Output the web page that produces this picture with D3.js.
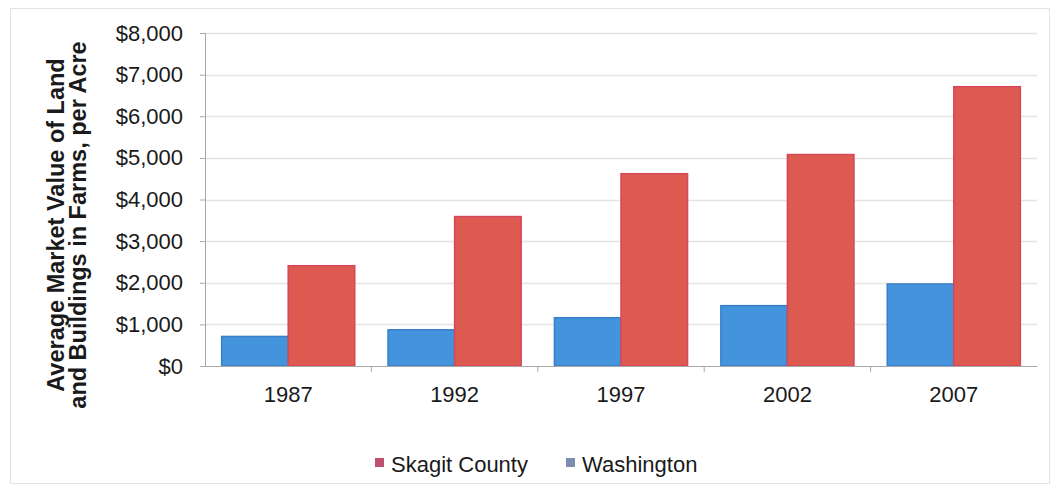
<!DOCTYPE html>
<html>
<head>
<meta charset="utf-8">
<script src="https://cdn.jsdelivr.net/npm/d3@7"></script>
<style>
  body { margin: 0; background: #fff; }
  text { font-family: "Liberation Sans", Arial, sans-serif; fill: #1a1a1a; }
</style>
</head>
<body>
<svg id="chart" width="1057" height="490"></svg>
<script>
// chart data
const years = ["1987", "1992", "1997", "2002", "2007"];
const seriesNames = ["Washington", "Skagit County"];
const washington = [710, 870, 1160, 1450, 1970];
const skagit = [2410, 3590, 4620, 5080, 6710];
const yTicks = [0, 1000, 2000, 3000, 4000, 5000, 6000, 7000, 8000];
const legendOrder = ["Skagit County", "Washington"];

const colors = { "Washington": "#4394dc", "Skagit County": "#dd5a50" };
const legendColors = { "Washington": "#7d8db0", "Skagit County": "#c0506f" };

const svg = d3.select("#chart");
const margin = { left: 205, right: 20, top: 33, bottom: 124 };
const W = 1057, H = 490;

// outer frame
svg.append("rect")
    .attr("x", 10.5).attr("y", 8.5)
    .attr("width", 1039).attr("height", 475)
    .attr("fill", "#fff")
    .attr("stroke", "#e2e2e2");

const x0 = d3.scaleBand()
    .domain(years)
    .range([margin.left, W - margin.right])
    .paddingInner(0.2)
    .paddingOuter(0.1);

const x1 = d3.scaleBand()
    .domain(seriesNames)
    .range([0, x0.bandwidth()]);

const y = d3.scaleLinear()
    .domain([0, 8000])
    .range([H - margin.bottom, margin.top]);

// gridlines
svg.append("g")
    .selectAll("line")
    .data(yTicks.filter(d => d > 0))
    .join("line")
    .attr("x1", margin.left).attr("x2", W - margin.right)
    .attr("y1", d => Math.round(y(d)) + 0.5).attr("y2", d => Math.round(y(d)) + 0.5)
    .attr("stroke", "#e4e4e4")
    .attr("stroke-width", 1.5);

// y axis
const yAxis = svg.append("g")
    .attr("transform", `translate(${margin.left},0)`)
    .call(d3.axisLeft(y).tickValues(yTicks).tickSize(5).tickPadding(17)
        .tickFormat(d => "$" + d3.format(",")(d)));
yAxis.select(".domain").attr("stroke", "#a8a8a8");
yAxis.selectAll(".tick line").attr("stroke", "#a8a8a8");
yAxis.selectAll("text")
    .style("font-size", "22px")
    .attr("fill", "#1a1a1a");

// bars
const data = years.map((yr, i) => ({ year: yr, values: { "Washington": washington[i], "Skagit County": skagit[i] } }));

svg.append("g")
    .selectAll("g")
    .data(data)
    .join("g")
    .attr("transform", d => `translate(${x0(d.year)},0)`)
    .selectAll("rect")
    .data(d => seriesNames.map(s => ({ s, v: d.values[s] })))
    .join("rect")
    .attr("x", d => x1(d.s))
    .attr("width", x1.bandwidth())
    .attr("y", d => y(d.v))
    .attr("height", d => y(0) - y(d.v))
    .attr("fill", d => colors[d.s])
    .attr("stroke", d => d.s === "Skagit County" ? "#d6475a" : "#3a7ec8")
    .attr("stroke-width", 1.5);

// x axis
const xAxis = svg.append("g")
    .attr("transform", `translate(0,${y(0)})`)
    .call(d3.axisBottom(x0).tickSize(0).tickPadding(20));
xAxis.select(".domain").attr("stroke", "#a8a8a8");
xAxis.selectAll("text").style("font-size", "22px").attr("fill", "#1a1a1a");

// category separator ticks
const bounds = years.slice(1).map(yr => x0(yr) - x0.step() * x0.paddingInner() / 2);
svg.append("g")
    .selectAll("line")
    .data(bounds)
    .join("line")
    .attr("x1", d => d).attr("x2", d => d)
    .attr("y1", y(0)).attr("y2", y(0) + 6)
    .attr("stroke", "#a8a8a8");

// y axis title
const title = svg.append("text")
    .attr("transform", "translate(0,225) rotate(-90)")
    .attr("text-anchor", "middle")
    .style("font-size", "23.5px")
    .style("font-weight", "bold");
title.append("tspan").attr("x", 0).attr("y", 64).text("Average Market Value of Land");
title.append("tspan").attr("x", 0).attr("y", 86).text("and Buildings in Farms, per Acre");

// legend
const legendX = [375, 566];
const legend = svg.append("g")
    .selectAll("g")
    .data(legendOrder)
    .join("g")
    .attr("transform", (d, i) => `translate(${legendX[i]},458)`);
legend.append("rect")
    .attr("width", 9).attr("height", 9)
    .attr("fill", d => legendColors[d]);
legend.append("text")
    .attr("x", 16).attr("y", 14)
    .style("font-size", "22px")
    .text(d => d);
</script>
</body>
</html>
